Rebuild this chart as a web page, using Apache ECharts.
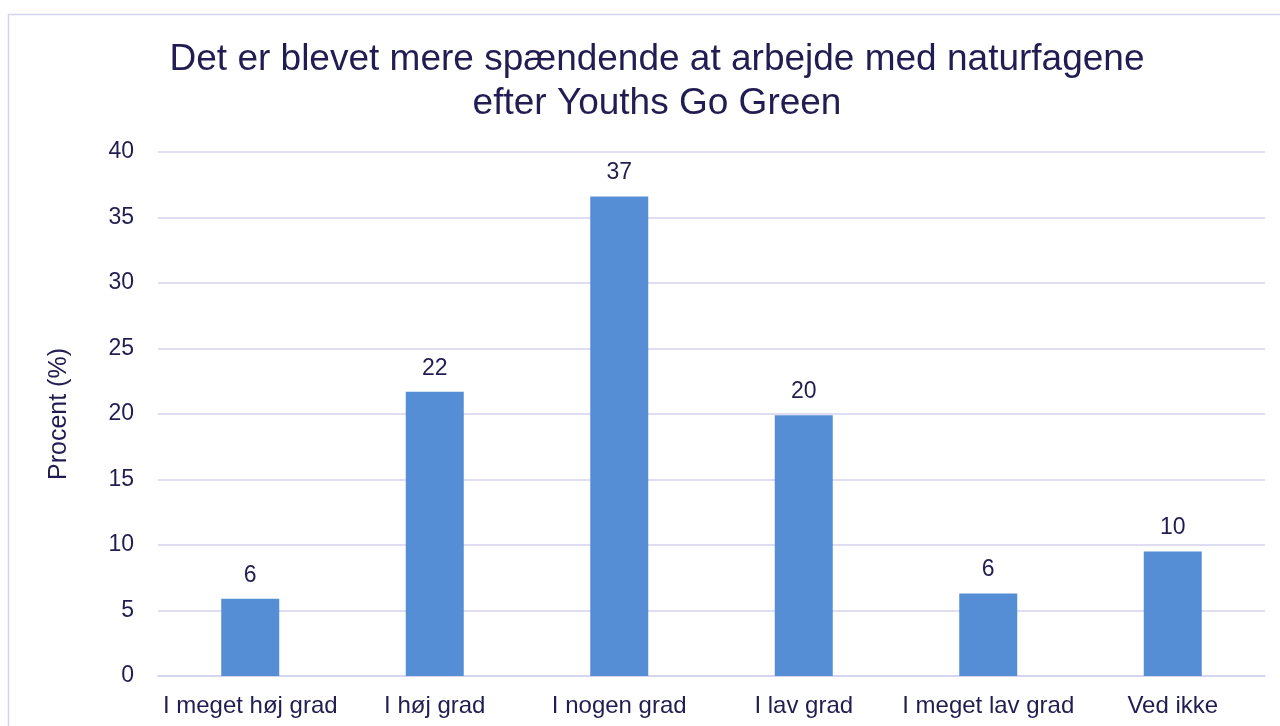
<!DOCTYPE html>
<html>
<head>
<meta charset="utf-8">
<script src="https://cdn.jsdelivr.net/npm/echarts@6/dist/echarts.min.js"></script>
<style>
  html, body { margin: 0; padding: 0; background: #fff; }
  #main { width: 1280px; height: 726px; }
</style>
</head>
<body>
<div id="main"></div>
<script>
var categories = ['I meget høj grad', 'I høj grad', 'I nogen grad', 'I lav grad', 'I meget lav grad', 'Ved ikke'];
var values = [5.9, 21.7, 36.6, 19.9, 6.3, 9.5];
var yTicks = { min: 0, max: 40, interval: 5 };

var textColor = '#211d52';
var myChart = echarts.init(document.getElementById('main'));

myChart.setOption({
    animation: false,
    title: {
        text: 'Det er blevet mere spændende at arbejde med naturfagene\nefter Youths Go Green',
        left: 652,
        top: 33,
        textAlign: 'center',
        textStyle: {
            fontFamily: 'Liberation Sans',
            fontSize: 37,
            fontWeight: 'normal',
            color: textColor,
            lineHeight: 44
        }
    },
    graphic: [
        {
            type: 'rect',
            shape: { x: 8.5, y: 14.5, width: 1300, height: 800 },
            style: { fill: 'none', stroke: '#d4d2ee', lineWidth: 1.5 },
            silent: true
        }
    ],
    grid: { left: 158, right: 15, top: 152, bottom: 50 },
    xAxis: {
        type: 'category',
        data: categories,
        axisLine: { lineStyle: { color: '#d4d2ee', width: 1.5 } },
        axisTick: { show: false },
        axisLabel: {
            interval: 0,
            fontFamily: 'Liberation Sans',
            fontSize: 24,
            color: textColor,
            margin: 18
        }
    },
    yAxis: {
        type: 'value',
        min: yTicks.min,
        max: yTicks.max,
        interval: yTicks.interval,
        name: 'Procent (%)',
        nameLocation: 'middle',
        nameGap: 86,
        nameTextStyle: {
            fontFamily: 'Liberation Sans',
            fontSize: 25,
            color: textColor
        },
        axisLine: { show: false },
        axisTick: { show: false },
        splitLine: { lineStyle: { color: '#d4d2ee', width: 1.5 } },
        axisLabel: {
            fontFamily: 'Liberation Sans',
            fontSize: 23,
            color: textColor,
            margin: 24
        }
    },
    series: [
        {
            type: 'bar',
            data: values,
            barWidth: 58,
            itemStyle: { color: '#558ed5' },
            label: {
                show: true,
                position: 'top',
                distance: 12,
                fontFamily: 'Liberation Sans',
                fontSize: 23,
                color: textColor,
                formatter: function (p) { return Math.round(p.value); }
            }
        }
    ]
});
</script>
</body>
</html>
